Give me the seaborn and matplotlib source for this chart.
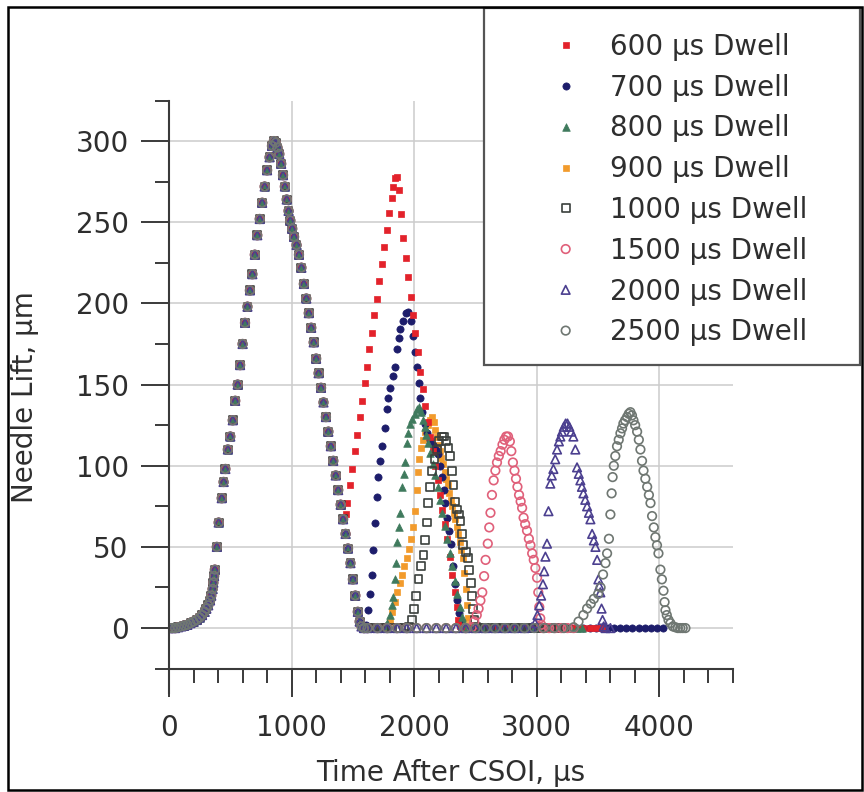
import matplotlib
matplotlib.use("Agg")
import matplotlib.pyplot as plt
import pandas as pd
import seaborn as sns
from matplotlib.patches import Rectangle
from matplotlib.ticker import MultipleLocator

# First injection, shared by every dwell setting (the traces overlap there)
MAIN_T = [0, 25, 50, 75, 100, 125, 150, 175, 200, 225, 250, 270, 290, 305, 320, 335, 345, 355,
          362, 368, 374, 390, 405, 430, 445, 460, 480, 500, 520, 540, 560, 580, 600, 620, 640,
          660, 680, 700, 720, 740, 760, 780, 800, 820, 840, 855, 870, 885, 900, 915, 930, 945,
          960, 975, 990, 1005, 1020, 1040, 1060, 1080, 1100, 1120, 1140, 1160, 1180, 1200,
          1220, 1240, 1260, 1280, 1300, 1320, 1340, 1360, 1380, 1400, 1420, 1440, 1460, 1480,
          1500, 1520, 1540, 1555, 1570, 1590]
MAIN_LIFT = [0, 0, 0, 0.5, 1, 1.5, 2, 3, 4, 5, 6.5, 8, 10, 12, 14, 17, 20, 24,
             28, 32, 36, 50, 65, 80, 90, 98, 110, 118, 128, 140, 150, 162, 175, 188, 198,
             208, 218, 230, 242, 252, 262, 272, 282, 290, 297, 300, 299, 296, 292, 286, 279, 272,
             264, 257, 251, 246, 241, 236, 230, 222, 212, 203, 194, 185, 176, 166,
             157, 148, 139, 130, 121, 112, 103, 94, 85, 76, 67, 58, 49, 40,
             30, 20, 10, 4, 1, 0]

# Second injection for each dwell (time us, lift um)
D600 = [(1440, 70), (1455, 77), (1475, 88), (1495, 98), (1515, 109), (1535, 119), (1555, 130),
        (1575, 140), (1595, 151), (1615, 161), (1635, 172), (1655, 182), (1675, 193), (1695, 203),
        (1715, 214), (1735, 224), (1755, 235), (1775, 245), (1795, 256), (1815, 265), (1830, 272),
        (1845, 277), (1860, 278), (1875, 270), (1890, 255), (1910, 240), (1930, 228), (1950, 216),
        (1970, 204), (1990, 193), (2010, 182), (2030, 170), (2050, 158), (2070, 147), (2090, 137),
        (2110, 127), (2130, 118), (2150, 109), (2170, 100), (2190, 91), (2210, 82), (2230, 73),
        (2250, 64), (2270, 55), (2290, 44), (2310, 33), (2330, 22), (2345, 13), (2360, 5),
        (2375, 1), (2390, 0)]
D600_TAIL_T = [2430, 2480, 2530, 2580, 2630, 2680, 2730, 2780, 2830, 2880, 2930, 2980, 3030,
               3080, 3130, 3180, 3230, 3280, 3330, 3380, 3430, 3480, 3530]

D700 = [(1610, 2), (1626, 11), (1641, 21), (1655, 33), (1667, 48), (1682, 65), (1695, 81),
        (1708, 93), (1722, 103), (1740, 112), (1763, 123), (1777, 135), (1790, 142), (1804, 148),
        (1825, 155), (1845, 161), (1859, 172), (1872, 179), (1886, 184), (1910, 189), (1935, 194),
        (1952, 195), (1970, 189), (1990, 180), (2005, 170), (2020, 161), (2035, 151), (2050, 142),
        (2065, 133), (2085, 126), (2105, 120), (2125, 116), (2150, 113), (2175, 110), (2195, 107),
        (2212, 100), (2225, 93), (2240, 85), (2253, 77), (2267, 68), (2285, 60), (2300, 52),
        (2318, 38), (2335, 27), (2349, 17), (2362, 9), (2375, 3), (2390, 0)]
D700_TAIL_T = [2430, 2480, 2530, 2580, 2630, 2680, 2730, 2780, 2830, 2880, 2930, 2980, 3030,
               3080, 3130, 3180, 3230, 3280, 3330, 3380, 3430, 3480, 3530, 3580, 3630, 3680,
               3730, 3780, 3830, 3880, 3930, 3980, 4030]

D800_LEAD_T = [1620, 1670, 1720]
D800 = [(1760, 1), (1780, 3), (1800, 8), (1815, 14), (1830, 19), (1845, 30), (1855, 40),
        (1862, 53), (1875, 62), (1886, 71), (1900, 87), (1914, 95), (1927, 102), (1940, 114),
        (1953, 120), (1967, 126), (1985, 129), (2008, 132), (2025, 135), (2040, 136), (2055, 133),
        (2070, 128), (2085, 124), (2100, 119), (2115, 114), (2130, 108), (2150, 101), (2170, 94),
        (2190, 87), (2210, 79), (2230, 71), (2250, 63), (2270, 55), (2290, 46), (2310, 38),
        (2330, 29), (2350, 21), (2370, 13), (2390, 7), (2410, 3), (2430, 0)]
D800_TAIL_T = [2480, 2530, 2580, 2630, 2680, 2730, 2780, 2830, 2880, 2930, 2980, 3030, 3080,
               3130, 3180, 3230, 3280, 3330, 3370]

D900_LEAD_T = [1620, 1670, 1720, 1760]
D900 = [(1785, 1), (1800, 4), (1820, 10), (1840, 16), (1860, 22), (1880, 28), (1900, 33),
        (1920, 38), (1940, 43), (1960, 49), (1975, 55), (1990, 62), (2005, 72), (2020, 85),
        (2030, 96), (2042, 104), (2055, 111), (2070, 116), (2090, 121), (2110, 125), (2130, 128),
        (2145, 130), (2160, 127), (2172, 122), (2185, 118), (2198, 113), (2210, 109), (2222, 105),
        (2235, 101), (2248, 96), (2260, 92), (2272, 88), (2285, 83), (2298, 79), (2310, 75),
        (2322, 71), (2335, 67), (2348, 62), (2360, 58), (2372, 53), (2385, 48), (2398, 43),
        (2410, 34), (2420, 24), (2430, 14), (2440, 6), (2450, 2), (2465, 0)]
D900_TAIL_T = [2510, 2560, 2610, 2660, 2710, 2760, 2810, 2860, 2910, 2960, 3010]

D1000_LEAD_T = [1620, 1670, 1720, 1770, 1820, 1870, 1920]
D1000 = [(1960, 1), (1985, 5), (2000, 12), (2015, 20), (2035, 30), (2055, 38), (2076, 45),
         (2090, 54), (2102, 65), (2114, 77), (2130, 87), (2145, 97), (2165, 104), (2185, 110),
         (2205, 115), (2225, 118), (2245, 118), (2262, 115), (2280, 111), (2294, 106), (2308, 97),
         (2320, 88), (2335, 78), (2350, 73), (2365, 70), (2378, 66), (2390, 58), (2400, 51),
         (2420, 47), (2441, 43), (2450, 36), (2460, 28), (2472, 20), (2482, 12), (2492, 5),
         (2505, 1), (2520, 0)]
D1000_TAIL_T = [2570, 2620, 2670, 2720, 2770, 2820, 2870, 2920, 2970, 3020, 3070, 3120, 3170, 3220]

D1500_LEAD_T = [1620, 1700, 1780, 1860, 1940, 2020, 2100, 2180, 2260, 2340, 2420]
D1500 = [(2470, 0.5), (2490, 4), (2510, 8), (2525, 12), (2540, 17), (2555, 22), (2570, 32),
         (2582, 42), (2600, 52), (2612, 62), (2622, 71), (2634, 82), (2648, 91), (2662, 97),
         (2675, 102), (2690, 106), (2705, 109), (2720, 113), (2735, 116), (2750, 118), (2765, 118),
         (2780, 115), (2792, 109), (2805, 102), (2818, 97), (2830, 92), (2842, 87), (2855, 82),
         (2868, 78), (2880, 74), (2892, 68), (2905, 64), (2920, 60), (2935, 55), (2948, 51),
         (2962, 46), (2975, 42), (2988, 37), (3002, 31), (3012, 22), (3020, 13), (3028, 6),
         (3036, 2), (3050, 0)]
D1500_TAIL_T = [3100, 3150, 3200, 3250, 3300]

D2000_LEAD_T = [1620, 1700, 1780, 1860, 1940, 2020, 2100, 2180, 2260, 2340, 2420, 2500, 2580,
                2660, 2740, 2820, 2900]
D2000 = [(2960, 0.5), (2985, 3), (3005, 8), (3020, 14), (3035, 20), (3050, 27), (3060, 35),
         (3070, 44), (3083, 52), (3095, 72), (3110, 89), (3122, 94), (3135, 98), (3150, 104),
         (3165, 110), (3180, 115), (3192, 118), (3205, 121), (3220, 124), (3235, 126), (3250, 126),
         (3265, 124), (3280, 121), (3298, 118), (3314, 110), (3328, 99), (3342, 95), (3355, 91),
         (3368, 87), (3380, 83), (3395, 79), (3410, 75), (3425, 71), (3437, 67), (3451, 58),
         (3465, 54), (3478, 50), (3492, 42), (3502, 30), (3510, 26), (3518, 22), (3528, 12),
         (3536, 5), (3545, 1), (3560, 0)]
D2000_TAIL_T = [3600]

D2500_LEAD_T = [1620, 1700, 1780, 1860, 1940, 2020, 2100, 2180, 2260, 2340, 2420, 2500, 2580,
                2660, 2740, 2820, 2900, 2980, 3060, 3140, 3220]
D2500 = [(3300, 0.5), (3340, 4), (3380, 8), (3410, 12), (3440, 15), (3465, 18), (3500, 21),
         (3520, 25), (3540, 33), (3560, 40), (3573, 46), (3588, 55), (3600, 70), (3610, 83),
         (3618, 93), (3628, 100), (3640, 106), (3654, 112), (3668, 116), (3682, 120), (3695, 123),
         (3706, 126), (3720, 128), (3736, 130), (3750, 132), (3763, 133), (3776, 131), (3788, 128),
         (3802, 125), (3818, 121), (3832, 116), (3845, 110), (3858, 103), (3870, 97), (3885, 92),
         (3900, 87), (3914, 82), (3927, 77), (3940, 69), (3954, 62), (3967, 56), (3980, 51),
         (3992, 46), (4008, 36), (4020, 30), (4033, 23), (4042, 16), (4049, 11), (4060, 8),
         (4074, 5), (4090, 3), (4110, 1), (4130, 0.5), (4150, 0), (4170, 0), (4190, 0), (4212, 0)]

SERIES = [
    ("600 µs Dwell", D600, [], D600_TAIL_T, 1420),
    ("700 µs Dwell", D700, [], D700_TAIL_T, 1590),
    ("800 µs Dwell", D800, D800_LEAD_T, D800_TAIL_T, 1590),
    ("900 µs Dwell", D900, D900_LEAD_T, D900_TAIL_T, 1590),
    ("1000 µs Dwell", D1000, D1000_LEAD_T, D1000_TAIL_T, 1590),
    ("1500 µs Dwell", D1500, D1500_LEAD_T, D1500_TAIL_T, 1590),
    ("2000 µs Dwell", D2000, D2000_LEAD_T, D2000_TAIL_T, 1590),
    ("2500 µs Dwell", D2500, D2500_LEAD_T, [], 1590),
]
LEGEND_ORDER = [s[0] for s in SERIES]
# stacking order of the traces (bottom first)
DRAW_ORDER = ["900 µs Dwell", "700 µs Dwell", "600 µs Dwell", "800 µs Dwell",
              "1000 µs Dwell", "1500 µs Dwell", "2000 µs Dwell", "2500 µs Dwell"]

STYLE = {
    "600 µs Dwell": dict(marker="s", s=22, color="#e3222b", fill=True),
    "700 µs Dwell": dict(marker="o", s=27, color="#1d1d6b", fill=True),
    "800 µs Dwell": dict(marker="^", s=30, color="#3f7a5d", fill=True),
    "900 µs Dwell": dict(marker="s", s=22, color="#f29b2c", fill=True),
    "1000 µs Dwell": dict(marker="s", s=32, color="#3a3f3c", fill=False),
    "1500 µs Dwell": dict(marker="o", s=38, color="#e0607a", fill=False),
    "2000 µs Dwell": dict(marker="^", s=38, color="#4b3f8f", fill=False),
    "2500 µs Dwell": dict(marker="o", s=38, color="#6f7772", fill=False),
}


def build_frame() -> pd.DataFrame:
    rows = []
    for label, curve, lead_t, tail_t, main_until in SERIES:
        for t, y in zip(MAIN_T, MAIN_LIFT):
            if t <= main_until:
                rows.append((label, t, y))
        rows += [(label, t, 0.0) for t in lead_t]
        rows += [(label, t, y) for t, y in curve]
        rows += [(label, t, 0.0) for t in tail_t]
    return pd.DataFrame(rows, columns=["dwell", "time", "lift"])


df = build_frame()

sns.set_style("white")
plt.rcParams["font.family"] = ["DejaVu Sans"]
TEXT = "#2e2e2e"
AXIS = "#3a3a3a"

W, H = 864, 792
fig = plt.figure(figsize=(W / 100, H / 100), dpi=100)
ax = fig.add_axes([169 / W, 1 - 693 / H, 564 / W, 592.5 / H])

for label in DRAW_ORDER:
    st = STYLE[label]
    sub = df[df["dwell"] == label]
    if st["fill"]:
        sns.scatterplot(data=sub, x="time", y="lift", ax=ax, marker=st["marker"], s=st["s"],
                        color=st["color"], edgecolor=st["color"], linewidth=0.5, label=label)
    else:
        sns.scatterplot(data=sub, x="time", y="lift", ax=ax, marker=st["marker"], s=st["s"],
                        color=st["color"], facecolor="none", edgecolor=st["color"],
                        linewidth=1.2, label=label)

ax.set_xlim(0, 4600)
ax.set_ylim(-40, 325)
ax.xaxis.set_major_locator(MultipleLocator(1000))
ax.xaxis.set_minor_locator(MultipleLocator(200))
ax.yaxis.set_major_locator(MultipleLocator(50))
ax.yaxis.set_minor_locator(MultipleLocator(25))

ax.set_axisbelow(True)
ax.grid(True, which="major", color="#cccccc", linewidth=1.1)

for side in ("top", "right"):
    ax.spines[side].set_visible(False)
for side in ("left", "bottom"):
    ax.spines[side].set_color(AXIS)
    ax.spines[side].set_linewidth(1.5)
ax.spines["bottom"].set_position(("data", -25))

ax.tick_params(which="both", direction="out", bottom=True, left=True, color=AXIS, width=1.4,
               labelcolor=TEXT, labelsize=20)
ax.tick_params(which="major", length=20)
ax.tick_params(which="minor", length=10)
ax.tick_params(axis="x", which="major", pad=13)
ax.tick_params(axis="y", which="major", pad=9)

ax.set_xlabel("Time After CSOI, µs", fontsize=20, color=TEXT, labelpad=12)
ax.set_ylabel("Needle Lift, µm", fontsize=20, color=TEXT, labelpad=26)

# legend box drawn separately so its padding can match the original
ax.add_patch(Rectangle((484 / W, 1 - 365 / H), (860 - 484) / W, (365 - 8) / H,
                       transform=fig.transFigure, clip_on=False, facecolor="white",
                       edgecolor="#555555", linewidth=1.6, zorder=4))
handles, labels = ax.get_legend_handles_labels()
by_label = dict(zip(labels, handles))
leg = ax.legend([by_label[k] for k in LEGEND_ORDER], LEGEND_ORDER,
                loc="upper left", bbox_to_anchor=(524 / W, 1 - 19 / H),
                bbox_transform=fig.transFigure, frameon=False, fontsize=20,
                handlelength=2.0, handletextpad=0.6, labelspacing=0.46, borderpad=0,
                scatteryoffsets=[0.5])
leg.set_zorder(5)
for txt in leg.get_texts():
    txt.set_color(TEXT)

# outer frame of the figure
fig.add_artist(Rectangle((8 / W, 1 - 790 / H), (862 - 8) / W, (790 - 7) / H,
                         transform=fig.transFigure, fill=False, edgecolor="black",
                         linewidth=1.8))

fig.savefig("out.png", dpi=100)
